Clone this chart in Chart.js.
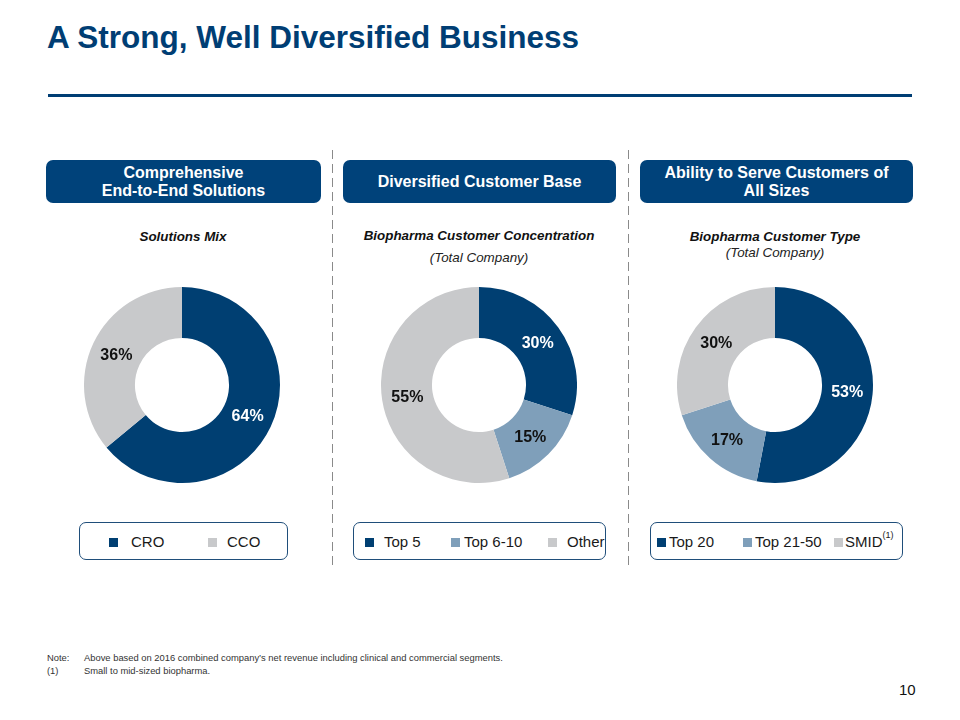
<!DOCTYPE html>
<html>
<head>
<meta charset="utf-8">
<script src="https://cdn.jsdelivr.net/npm/chart.js@4.4.0/dist/chart.umd.min.js"></script>
<style>
  body { margin: 0; width: 960px; height: 720px; background: #fff; font-family: Arial, "Liberation Sans", sans-serif; position: relative; overflow: hidden; }
  .abs { position: absolute; }
  .title { left: 47px; top: 21px; font-size: 31.5px; line-height: 32px; font-weight: bold; color: #003e74; white-space: nowrap; }
  .rule { left: 48px; top: 94px; width: 864px; height: 3px; background: #003e74; }
  .head { top: 160px; height: 43px; background: #00427a; border-radius: 7px; color: #fff; font-weight: bold; font-size: 16px; line-height: 18px; display: flex; align-items: center; justify-content: center; text-align: center; }
  .sub { font-size: 13.4px; font-weight: bold; font-style: italic; color: #111; text-align: center; width: 296px; }
  .subi { font-size: 13.4px; font-style: italic; color: #222; text-align: center; width: 296px; }
  .dash { top: 150px; height: 415px; width: 1px; background: repeating-linear-gradient(to bottom, #8a8a8a 0 9px, transparent 9px 14px); }
  .legend { top: 522px; height: 38px; border: 1px solid #1f4e7a; border-radius: 7px; font-size: 15px; color: #1a1a1a; box-sizing: border-box; }
  .legend .sq { position: absolute; top: 15px; width: 9px; height: 9px; }
  .legend .tx { position: absolute; top: 10px; white-space: nowrap; line-height: 18px; }
  .legend sup { font-size: 9px; vertical-align: baseline; line-height: 0; position: relative; top: -9px; }
  .note { left: 47px; font-size: 9.4px; color: #333; }
  .note b { font-weight: normal; display: inline-block; width: 37px; }
</style>
</head>
<body>
<div class="abs title">A Strong, Well Diversified Business</div>
<div class="abs rule"></div>

<div class="abs head" style="left:46px;width:275px;">Comprehensive<br>End-to-End Solutions</div>
<div class="abs head" style="left:343px;width:273px;">Diversified Customer Base</div>
<div class="abs head" style="left:640px;width:273px;">Ability to Serve Customers of<br>All Sizes</div>

<div class="abs dash" style="left:332px;"></div>
<div class="abs dash" style="left:628px;"></div>

<div class="abs sub" style="left:35px;top:229px;">Solutions Mix</div>
<div class="abs sub" style="left:331px;top:228px;">Biopharma Customer Concentration</div>
<div class="abs subi" style="left:331px;top:250px;">(Total Company)</div>
<div class="abs sub" style="left:627px;top:229px;">Biopharma Customer Type</div>
<div class="abs subi" style="left:627px;top:245px;">(Total Company)</div>

<canvas id="c1" class="abs" style="left:84px;top:287px;"></canvas>
<canvas id="c2" class="abs" style="left:381px;top:287px;"></canvas>
<canvas id="c3" class="abs" style="left:677px;top:287px;"></canvas>

<div id="lg1" class="abs legend" style="left:79px;width:209px;"></div>
<div id="lg2" class="abs legend" style="left:353px;width:253px;"></div>
<div id="lg3" class="abs legend" style="left:650px;width:253px;"></div>

<div class="abs note" style="top:652px;"><b>Note:</b>Above based on 2016 combined company’s net revenue including clinical and commercial segments.</div>
<div class="abs note" style="top:665px;"><b>(1)</b>Small to mid-sized biopharma.</div>
<div class="abs" style="left:899px;top:681px;font-size:15px;color:#111;">10</div>

<script>
const NAVY = '#003f72';
const STEEL = '#7f9fba';
const GREY = '#c8c9cb';

// Solutions Mix
const mixLabels = ['CRO', 'CCO'];
const mixValues = [64, 36];
const mixColors = [NAVY, GREY];

// Biopharma Customer Concentration
const concLabels = ['Top 5', 'Top 6-10', 'Other'];
const concValues = [30, 15, 55];
const concColors = [NAVY, STEEL, GREY];

// Biopharma Customer Type
const typeLabels = ['Top 20', 'Top 21-50', 'SMID'];
const typeValues = [53, 17, 30];
const typeColors = [NAVY, STEEL, GREY];

// legend layout: [square x, text x] inside each box (tab stops of the slide)
const lg1Pos = [[29, 51], [128, 147]];
const lg2Pos = [[11, 30], [97, 110], [194, 213]];
const lg3Pos = [[6, 18], [92, 104], [183, 194]];

// labels inside each slice, white on navy, dark elsewhere
const sliceLabels = {
	id: 'sliceLabels',
	afterDatasetsDraw (chart) {
		const ctx = chart.ctx;
		const meta = chart.getDatasetMeta(0);
		const ds = chart.data.datasets[0];
		ctx.save();
		ctx.font = 'bold 16px Arial, "Liberation Sans", sans-serif';
		ctx.textAlign = 'center';
		ctx.textBaseline = 'middle';
		meta.data.forEach((arc, i) => {
			const p = arc.tooltipPosition();
			ctx.fillStyle = ds.backgroundColor[i] === NAVY ? '#ffffff' : '#111111';
			ctx.fillText(ds.data[i] + '%', p.x, p.y + 1);
		});
		ctx.restore();
	},
};

function makeDoughnut (id, labels, values, colors) {
	const canvas = document.getElementById(id);
	canvas.width = 196;
	canvas.height = 196;
	return new Chart(canvas, {
		type: 'doughnut',
		data: {
			labels: labels,
			datasets: [{
				data: values,
				backgroundColor: colors,
				borderWidth: 0,
			}],
		},
		options: {
			responsive: false,
			animation: false,
			cutout: '48%',
			layout: { padding: 0 },
			plugins: {
				legend: { display: false },
				tooltip: { enabled: false },
			},
		},
		plugins: [sliceLabels],
	});
}

function makeLegend (id, labels, colors, pos, notes) {
	const el = document.getElementById(id);
	labels.forEach((lab, i) => {
		const sq = document.createElement('div');
		sq.className = 'sq';
		sq.style.background = colors[i];
		sq.style.left = pos[i][0] + 'px';
		el.appendChild(sq);
		const tx = document.createElement('div');
		tx.className = 'tx';
		tx.style.left = pos[i][1] + 'px';
		tx.textContent = lab;
		if (notes && notes[i]) {
			const s = document.createElement('sup');
			s.textContent = notes[i];
			tx.appendChild(s);
		}
		el.appendChild(tx);
	});
}

makeDoughnut('c1', mixLabels, mixValues, mixColors);
makeDoughnut('c2', concLabels, concValues, concColors);
makeDoughnut('c3', typeLabels, typeValues, typeColors);

makeLegend('lg1', mixLabels, mixColors, lg1Pos);
makeLegend('lg2', concLabels, concColors, lg2Pos);
makeLegend('lg3', typeLabels, typeColors, lg3Pos, [null, null, '(1)']);
</script>
</body>
</html>
